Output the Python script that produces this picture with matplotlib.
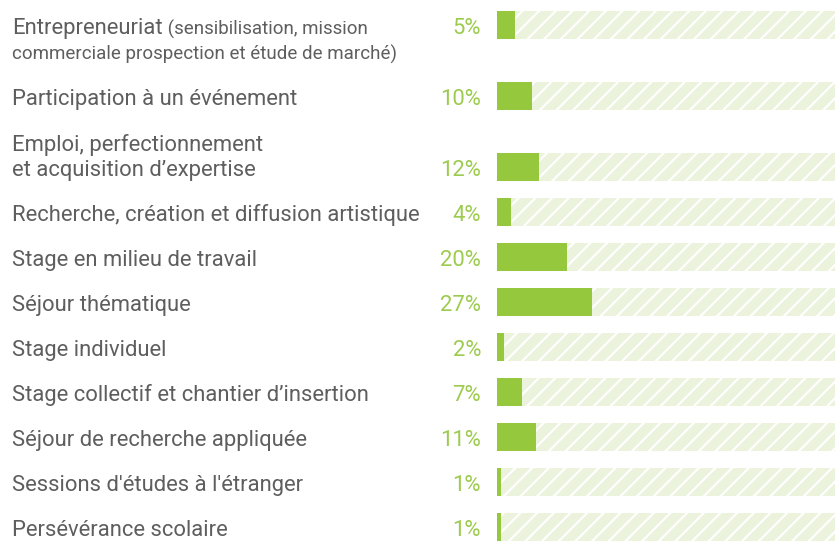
import matplotlib
matplotlib.use("Agg")
import matplotlib.pyplot as plt
from matplotlib.transforms import blended_transform_factory

plt.rcParams["font.family"] = ["Roboto", "DejaVu Sans"]
plt.rcParams["hatch.linewidth"] = 1.6

labels = [
    "Entrepreneuriat",
    "Participation à un événement",
    "Emploi, perfectionnement\net acquisition d’expertise",
    "Recherche, création et diffusion artistique",
    "Stage en milieu de travail",
    "Séjour thématique",
    "Stage individuel",
    "Stage collectif et chantier d’insertion",
    "Séjour de recherche appliquée",
    "Sessions d'études à l'étranger",
    "Persévérance scolaire",
]
notes = [
    "(sensibilisation, mission\ncommerciale prospection et étude de marché)",
    "", "", "", "", "", "", "", "", "", "",
]
values = [5, 10, 12, 4, 20, 27, 2, 7, 11, 1, 1]

SCALE_MAX = 96
GREEN = "#95c83d"
GREEN_TXT = "#9ccb4e"
STRIPE_BG = "#ebf3dc"
GREY = "#5e5e5e"

W, H = 835, 542
fig = plt.figure(figsize=(W / 100, H / 100), dpi=100)
ax = fig.add_axes([497 / W, 0, (W - 497) / W, 1])
ax.set_xlim(0, SCALE_MAX)
ax.set_ylim(H, 0)
ax.axis("off")

# row centres: base spacing, plus room for any extra label lines
ys = []
y = 25
prev_below = 0
for lab, note in zip(labels, notes):
    above = lab.count("\n")
    if ys:
        y += 45 + 26 * (prev_below + above)
    ys.append(y)
    prev_below = note.count("\n")

ax.barh(ys, [SCALE_MAX] * len(ys), height=28, color=STRIPE_BG,
        edgecolor="white", linewidth=0, hatch="//")
ax.barh(ys, values, height=28, color=GREEN, linewidth=0)

tr = blended_transform_factory(fig.transFigure, ax.transData)
x_lab = 12 / W
x_val = 481 / W
fs_main = 15.8
fs_note = 13.5
line_h = 26
wt = "normal"

for yc, lab, note, v in zip(ys, labels, notes, values):
    lines = lab.split("\n")
    n = len(lines)
    for i, ln in enumerate(lines):
        t = fig.text(x_lab, yc + 1 - (n - 1 - i) * line_h, ln, transform=tr,
                     ha="left", va="center_baseline", fontsize=fs_main,
                     color=GREY, fontweight=wt)
    if note:
        nlines = note.split("\n")
        ax.annotate(" " + nlines[0], xy=(1, 0), xycoords=t,
                    ha="left", va="bottom", fontsize=fs_note, color=GREY,
                    fontweight=wt)
        for j, nl in enumerate(nlines[1:], start=1):
            fig.text(x_lab, yc + 1 + j * line_h, nl, transform=tr, ha="left",
                     va="center_baseline", fontsize=fs_note, color=GREY,
                     fontweight=wt)
    fig.text(x_val, yc + 1, f"{v}%", transform=tr, ha="right",
             va="center_baseline", fontsize=fs_main, color=GREEN_TXT,
             fontweight=wt)

fig.savefig("out.png", dpi=100)
